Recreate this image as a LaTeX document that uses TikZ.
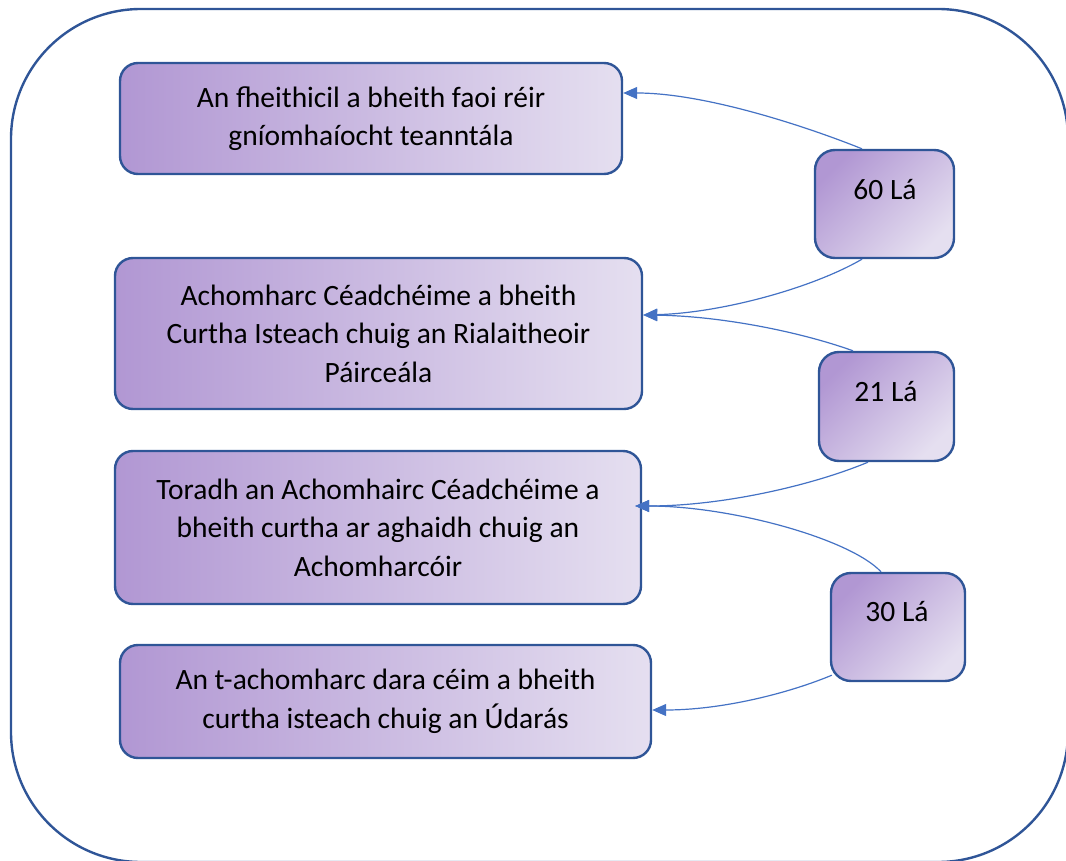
\documentclass[tikz,border=0pt]{standalone}
\usepackage{fontspec}
\setmainfont{Carlito}
\usetikzlibrary{arrows.meta}
\definecolor{frameblue}{RGB}{47,85,151}
\definecolor{arrowblue}{RGB}{68,114,196}
\definecolor{purpleL}{RGB}{177,151,211}
\definecolor{purpleR}{RGB}{229,223,240}
\tikzset{
 stepbox/.style={draw=frameblue, line width=2.4pt, rounded corners=18pt, left color=purpleL, right color=purpleR, align=center, font=\fontsize{29.5}{38.5}\selectfont, inner sep=0pt},
 daybox/.style={draw=frameblue, line width=2.4pt, rounded corners=20pt, left color=purpleL, right color=purpleR, shading angle=45, inner sep=0pt},
 daytext/.style={font=\fontsize{29.5}{38.5}\selectfont, inner sep=0pt},
 conn/.style={draw=arrowblue, line width=1.2pt, -{Triangle[length=14pt,width=12pt]}},
}
\begin{document}
\begin{tikzpicture}[x=1pt,y=-1pt]
\useasboundingbox (0,0) rectangle (1066,861);
\clip (0,0) rectangle (1066,861);
\draw[frameblue, line width=2.4pt, rounded corners=130pt] (11,9) rectangle (1068,862);

\node[stepbox, minimum width=502pt, minimum height=111pt] (b1) at (371,118.5) {An fheithicil a bheith faoi réir\\gníomhaíocht teanntála};
\node[stepbox, minimum width=527pt, minimum height=151pt] (b2) at (378.5,333.5) {Achomharc Céadchéime a bheith\\Curtha Isteach chuig an Rialaitheoir\\Páirceála};
\node[stepbox, minimum width=526pt, minimum height=153pt] (b3) at (378,527.5) {Toradh an Achomhairc Céadchéime a\\bheith curtha ar aghaidh chuig an\\Achomharcóir};
\node[stepbox, minimum width=531pt, minimum height=113pt] (b4) at (385.5,701.5) {An t-achomharc dara céim a bheith\\curtha isteach chuig an Údarás};

\node[daybox, minimum width=139pt, minimum height=108pt] (d60) at (884.5,204) {};
\node[daybox, minimum width=135pt, minimum height=109pt] (d21) at (886.5,406.5) {};
\node[daybox, minimum width=134pt, minimum height=108pt] (d30) at (898,627) {};
\node[daytext] (t60) at (885,190) {60 Lá};
\node[daytext] (t21) at (886,392) {21 Lá};
\node[daytext] (t30) at (897,612) {30 Lá};

\draw[conn] ([xshift=-22.5pt]d60.north) .. controls +(-60,-24) and +(80,0) .. ([yshift=25.5pt]b1.east);
\draw[conn] ([xshift=-22.5pt]d60.south) .. controls +(-50,29) and +(78,-2) .. ([yshift=18.5pt]b2.east);
\draw[conn] ([xshift=-33.5pt]d21.north) .. controls +(-53,-19) and +(78,1) .. ([yshift=18.5pt]b2.east);
\draw[conn] ([xshift=-18.5pt]d21.south) .. controls +(-58,24) and +(86,0) .. ([xshift=-7pt,yshift=21.5pt]b3.east);
\draw[conn] ([xshift=-17pt]d30.north) .. controls +(-31,-33) and +(96,0) .. ([xshift=-7pt,yshift=21.5pt]b3.east);
\draw[conn] ([xshift=2pt,yshift=7pt]d30.south west) .. controls +(-43,18) and +(70,0) .. ([yshift=-8.5pt]b4.east);
\end{tikzpicture}
\end{document}
